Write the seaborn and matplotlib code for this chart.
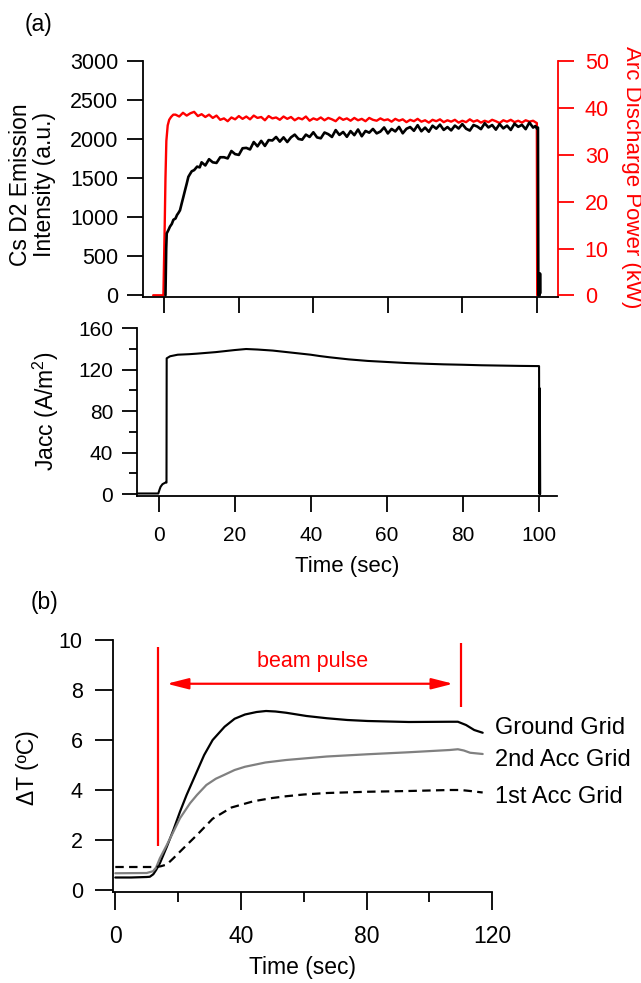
import matplotlib
matplotlib.use("Agg")
import matplotlib.pyplot as plt
import numpy as np
import pandas as pd
import seaborn as sns
from matplotlib.ticker import MultipleLocator

# ---------------- data ----------------
# (a) top: Cs D2 emission intensity (a.u.), left axis
cs_t = ([0.3, 0.5, 0.64, 1.09, 1.5, 2.0, 2.43, 3.0, 3.4, 3.77, 4.2, 4.66, 5.1,
         5.56, 6.0, 6.45, 6.9, 7.35, 8.0, 8.8, 9.5]
        + list(range(10, 100))
        + [99.6, 100.0, 100.3, 100.4, 100.75, 100.85, 100.95])
cs_val = ([0, 600, 794, 836, 880, 915, 968, 985, 1030, 1055, 1090, 1178, 1260,
           1348, 1430, 1519, 1555, 1590, 1605, 1650, 1640]
          + [1705, 1665, 1745, 1705, 1697, 1770, 1770, 1755, 1850, 1810,
             1800, 1885, 1890, 1870, 1965, 1910, 1980, 1915, 1990, 1985,
             2030, 1970, 2025, 1965, 2025, 2060, 2005, 1995, 2060, 2030,
             2090, 2024, 2013, 2087, 2066, 2030, 2118, 2056, 2094, 2032,
             2105, 2053, 2126, 2039, 2107, 2085, 2133, 2076, 2099, 2152,
             2075, 2133, 2101, 2159, 2077, 2135, 2157, 2109, 2181, 2103,
             2150, 2097, 2174, 2136, 2188, 2120, 2157, 2114, 2176, 2138,
             2195, 2136, 2112, 2183, 2164, 2130, 2206, 2152, 2183, 2124,
             2195, 2140, 2175, 2120, 2200, 2160, 2185, 2130, 2215, 2150]
          + [2170, 2140, 2150, 0, 0, 280, 30])

# (a) top: arc discharge power (kW), right axis
arc_t = ([-3, -2, -1, -0.25, 0.1, 0.3, 0.54, 0.9, 1.3, 1.8, 2.4]
         + list(range(3, 100))
         + [99.6, 100.0, 100.1, 100.4])
arc_val = ([0, 0, 0, 0, 15, 25, 33, 36.3, 37.5, 38.1, 38.6]
           + [38.6, 38.2, 39.0, 38.4, 38.9, 39.2, 38.3, 38.7, 38.1, 38.6,
              37.9, 38.4, 37.5, 37.8, 37.2, 38.0, 37.6, 38.3, 37.7, 38.2,
              37.6, 38.4, 37.9, 38.1, 37.4, 38.3, 37.8, 38.0, 37.5, 38.2,
              37.7, 38.1, 37.4, 37.9, 37.6, 38.2, 37.3, 37.8, 37.5, 38.0,
              37.4, 37.9, 37.6, 37.2, 38.0, 37.5, 37.8, 37.3, 37.9, 37.4,
              37.7, 37.2, 37.9, 37.5, 37.3, 37.8, 37.4, 37.6, 37.1, 37.7,
              37.3, 37.6, 37.0, 37.5, 37.2, 37.7, 37.1, 37.4, 36.9, 37.5,
              37.2, 37.6, 37.0, 37.4, 37.1, 37.5, 36.9, 37.3, 37.0, 37.6,
              37.1, 37.4, 36.9, 37.3, 37.0, 37.5, 37.2, 36.8, 37.4, 37.1,
              37.5, 37.0, 37.3, 36.9, 37.4, 37.1, 37.3]
           + [37.0, 36.8, 0, 0])

# (a) middle: Jacc (A/m^2)
jacc_t = [-5.5, -0.1, 0.2, 0.5, 1.0, 1.7, 2.05, 2.1, 3, 5, 8, 10, 15, 20, 23,
          26, 30, 35, 40, 42.4, 45, 50, 55, 60, 65, 70, 75, 80, 85, 90, 95,
          100.1, 100.2, 100.3, 100.4]
jacc_val = [0.5, 0.5, 4, 7, 9.5, 10.9, 11, 131, 133, 134.5, 135, 135.5, 137,
            139, 140, 139.5, 138.5, 136.5, 134.5, 133.2, 132, 130, 128.5,
            127.5, 126.5, 125.8, 125.2, 124.8, 124.3, 124, 123.7, 123.5, 0,
            102, 0]

# (b) grid temperature rise (deg C)
gg_t = [0, 5, 10, 11, 12.1, 13, 14.2, 16.4, 18.5, 20.6, 22.7, 24.8, 28.3, 31,
        34.8, 38, 41.3, 45, 48, 51, 54.4, 60.9, 67.4, 73.9, 80.4, 93.5, 106.5,
        109.1, 111.7, 114.3, 117]
gg_val = [0.5, 0.5, 0.52, 0.53, 0.63, 0.8, 1.07, 1.73, 2.4, 3.13, 3.8, 4.4,
          5.4, 6.0, 6.53, 6.85, 7.02, 7.12, 7.16, 7.14, 7.09, 6.96, 6.87, 6.8,
          6.76, 6.72, 6.73, 6.73, 6.6, 6.4, 6.29]

acc2_t = [0, 10, 12, 13, 14.2, 16.4, 18.5, 20.6, 23.8, 26, 29, 32, 34.6, 38,
          41.3, 47.8, 54.4, 67.4, 80.4, 93.5, 106.5, 109.1, 111, 113, 117]
acc2_val = [0.67, 0.68, 0.75, 0.9, 1.27, 1.8, 2.33, 2.87, 3.47, 3.8, 4.2, 4.45,
            4.6, 4.8, 4.93, 5.1, 5.2, 5.34, 5.43, 5.51, 5.6, 5.63, 5.58, 5.49,
            5.44]

acc1_t = [0, 13, 14.5, 16.4, 18.5, 21.7, 26, 31, 37, 44, 50, 54.4, 60, 67.4,
          80.4, 93.5, 106.5, 110, 113, 117]
acc1_val = [0.92, 0.92, 0.95, 1.02, 1.27, 1.67, 2.2, 2.85, 3.3, 3.55, 3.68,
            3.75, 3.82, 3.88, 3.93, 3.96, 4.0, 4.0, 3.96, 3.9]

grid_names = ["Ground Grid", "2nd Acc Grid", "1st Acc Grid"]
grid_label_y = [6.48, 5.2, 3.73]

pulse_marker_t = [13.6, 110.0]
pulse_marker_lo = [1.76, 7.33]
pulse_marker_hi = [9.71, 9.87]
pulse_arrow_t = [16.4, 107.6]
pulse_arrow_y = 8.25

# ---------------- style ----------------
sns.set_style("ticks", rc={"axes.edgecolor": "black", "text.color": "black",
                           "axes.labelcolor": "black", "xtick.color": "black",
                           "ytick.color": "black"})
plt.rcParams["font.family"] = ["Liberation Sans", "DejaVu Sans"]
plt.rcParams["mathtext.fontset"] = "custom"
plt.rcParams["mathtext.rm"] = "Liberation Sans"
plt.rcParams["mathtext.it"] = "Liberation Sans:italic"
plt.rcParams["mathtext.default"] = "rm"

W, H = 641, 983
fig = plt.figure(figsize=(W / 100, H / 100), dpi=100)


def add_axes_px(left, right, top, bottom):
    return fig.add_axes([left / W, 1 - bottom / H, (right - left) / W,
                         (bottom - top) / H])


SPW = 1.3
RED = "#ff0000"

# ---------------- (a) top panel ----------------
ax1 = add_axes_px(143.3, 557.7, 61.3, 297.3)
ax2 = ax1.twinx()
ax1.set_zorder(2)
ax2.set_zorder(1)
ax1.patch.set_visible(False)

sns.lineplot(x=arc_t, y=arc_val, ax=ax2, color=RED, lw=1.7,
             estimator=None, sort=False)
sns.lineplot(x=cs_t, y=cs_val, ax=ax1, color="black", lw=1.9,
             estimator=None, sort=False)

ax1.set_xlim(-5.65, 105.6)
ax1.set_ylim(-25.6, 3000)
ax2.set_ylim(-0.427, 50)
ax1.xaxis.set_major_locator(MultipleLocator(20))
ax1.yaxis.set_major_locator(MultipleLocator(500))
ax2.yaxis.set_major_locator(MultipleLocator(10))

for s in ["top", "right"]:
    ax1.spines[s].set_visible(False)
for s in ["top", "left", "bottom"]:
    ax2.spines[s].set_visible(False)
for s in ["left", "bottom"]:
    ax1.spines[s].set_linewidth(SPW)
ax2.spines["right"].set_linewidth(SPW)
ax2.spines["right"].set_color(RED)

ax1.tick_params(axis="x", direction="out", length=11.5, width=SPW,
                labelbottom=False)
ax1.tick_params(axis="y", direction="out", length=11.5, width=SPW,
                labelsize=15.5, pad=6.5)
ax2.tick_params(axis="y", direction="out", length=11.5, width=SPW,
                labelsize=15.5, pad=8, colors=RED)

ax1.set_xlabel("")
ax1.set_ylabel("Cs D2 Emission\nIntensity (a.u.)", fontsize=16.5,
               va="center", linespacing=1.05)
ax1.yaxis.set_label_coords(-0.268, 0.476)
ax2.set_ylabel("Arc Discharge Power (kW)", fontsize=16, color=RED,
               rotation=270, va="center")
ax2.yaxis.set_label_coords(1.177, 0.51)

# ---------------- (a) middle panel ----------------
ax3 = add_axes_px(136.7, 557.3, 328.3, 496.0)
sns.lineplot(x=jacc_t, y=jacc_val, ax=ax3, color="black", lw=1.5,
             estimator=None, sort=False)
ax3.set_xlim(-5.79, 104.9)
ax3.set_ylim(-1.93, 160)
ax3.xaxis.set_major_locator(MultipleLocator(20))
ax3.yaxis.set_major_locator(MultipleLocator(40))
ax3.yaxis.set_minor_locator(MultipleLocator(20))
for s in ["top", "right"]:
    ax3.spines[s].set_visible(False)
for s in ["left", "bottom"]:
    ax3.spines[s].set_linewidth(SPW)
ax3.tick_params(axis="x", which="major", direction="out", length=11.5,
                width=SPW, labelsize=15, pad=10)
ax3.tick_params(axis="y", which="major", direction="out", length=10.8,
                width=SPW, labelsize=15, pad=6)
ax3.tick_params(axis="y", which="minor", direction="out", length=5.8,
                width=SPW)
ax3.set_xlabel("Time (sec)", fontsize=16, va="center")
ax3.xaxis.set_label_coords(0.5, -0.42)
ax3.set_ylabel("Jacc (A/m$^{2}$)", fontsize=16.5, va="center")
ax3.yaxis.set_label_coords(-0.216, 0.507)

# ---------------- (b) bottom panel ----------------
ax4 = add_axes_px(112.7, 492.1, 640.0, 891.7)
sns.lineplot(x=gg_t, y=gg_val, ax=ax4, color="black", lw=1.6,
             estimator=None, sort=False)
sns.lineplot(x=acc2_t, y=acc2_val, ax=ax4, color="#808080", lw=1.6,
             estimator=None, sort=False)
sns.lineplot(x=acc1_t, y=acc1_val, ax=ax4, color="black", lw=1.6,
             estimator=None, sort=False)
ax4.lines[-1].set_dashes([3.8, 2.4])

ax4.vlines(pulse_marker_t, pulse_marker_lo, pulse_marker_hi, color=RED,
           lw=1.6)
ax4.annotate("", xy=(pulse_arrow_t[0], pulse_arrow_y),
             xytext=(pulse_arrow_t[1], pulse_arrow_y),
             arrowprops=dict(arrowstyle="<|-|>,head_length=1.3,head_width=0.33",
                             color=RED, lw=1.6, shrinkA=0, shrinkB=0,
                             mutation_scale=10))
ax4.text(62.7, 9.13, "beam pulse", color=RED, fontsize=15.5,
         ha="center", va="center")

for name, yv in zip(grid_names, grid_label_y):
    ax4.text(120.8, yv, name, fontsize=17, ha="left", va="center",
             clip_on=False)

ax4.set_xlim(-0.83, 120)
ax4.set_ylim(-0.068, 10)
ax4.xaxis.set_major_locator(MultipleLocator(40))
ax4.xaxis.set_minor_locator(MultipleLocator(20))
ax4.yaxis.set_major_locator(MultipleLocator(2))
for s in ["top", "right"]:
    ax4.spines[s].set_visible(False)
for s in ["left", "bottom"]:
    ax4.spines[s].set_linewidth(SPW)
ax4.tick_params(axis="x", which="major", direction="out", length=13,
                width=SPW, labelsize=16.5, pad=11)
ax4.tick_params(axis="x", which="minor", direction="out", length=7.2,
                width=SPW)
ax4.tick_params(axis="y", which="major", direction="out", length=13,
                width=SPW, labelsize=15.5, pad=8.5)
ax4.set_xlabel("Time (sec)", fontsize=16.5, va="center")
ax4.xaxis.set_label_coords(0.5, -0.303)
ax4.set_ylabel("ΔT (ºC)", fontsize=16.5, va="center")
ax4.yaxis.set_label_coords(-0.224, 0.491)

# panel letters
fig.text(38 / W, 1 - 24 / H, "(a)", fontsize=16.5, ha="center", va="center")
fig.text(45 / W, 1 - 602 / H, "(b)", fontsize=16.5, ha="center", va="center")

fig.savefig("out.png", dpi=100)
